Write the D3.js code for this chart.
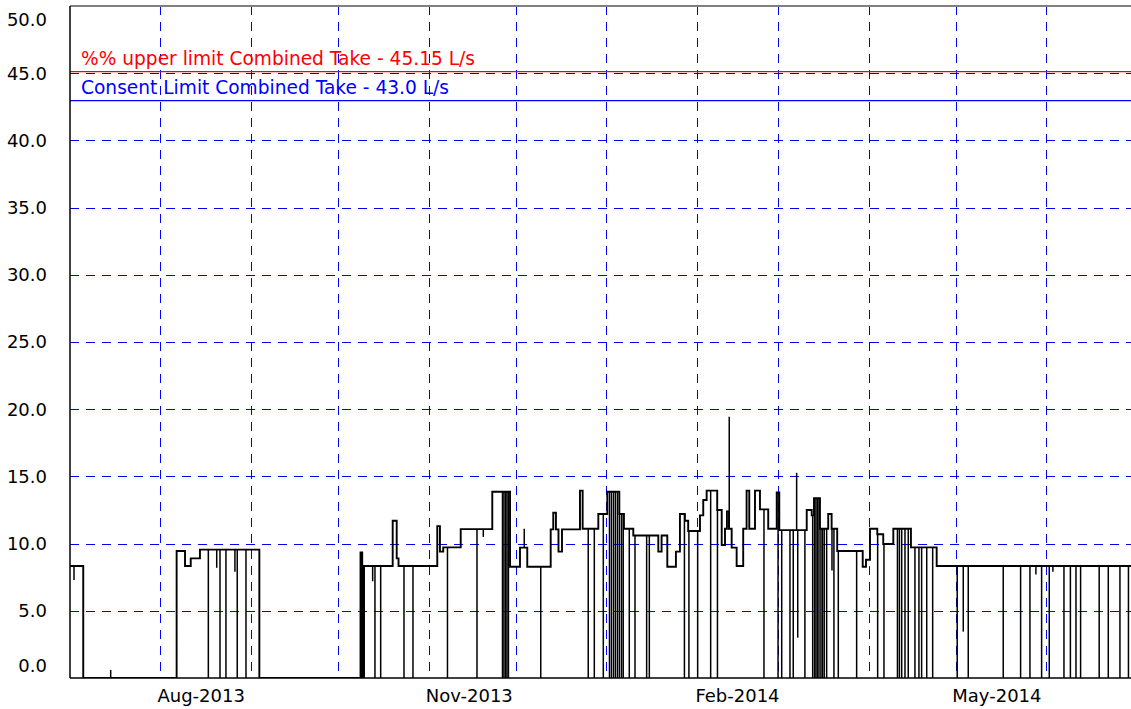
<!DOCTYPE html>
<html>
<head>
<meta charset="utf-8">
<script src="https://cdn.jsdelivr.net/npm/d3@7"></script>
<style>
body { margin: 0; background: #fff; }
svg { display: block; font-family: "DejaVu Sans", sans-serif; }
</style>
</head>
<body>
<svg width="1131" height="709"></svg>
<script>
var parseTime = d3.timeParse("%Y-%m-%dT%H");

// flow record (L/s) as held levels: each value holds until the next date
var levelDates = [
	"2013-07-01T00", "2013-07-05T13", "2013-08-06T14", "2013-08-09T11", "2013-08-11T10", "2013-08-14T14",
	"2013-09-03T23", "2013-10-08T16", "2013-10-09T06", "2013-10-09T21", "2013-10-19T17", "2013-10-21T02",
	"2013-10-21T17", "2013-11-04T00", "2013-11-04T22", "2013-11-06T01", "2013-11-12T01", "2013-11-22T21",
	"2013-11-28T23", "2013-12-02T09", "2013-12-04T21", "2013-12-12T22", "2013-12-13T19", "2013-12-14T17",
	"2013-12-15T14", "2013-12-16T19", "2013-12-22T23", "2013-12-23T21", "2013-12-29T06", "2014-01-01T08",
	"2014-01-05T11", "2014-01-07T01", "2014-01-10T06", "2014-01-18T20", "2014-01-19T23", "2014-01-21T22",
	"2014-01-24T21", "2014-01-26T06", "2014-01-27T23", "2014-01-29T02", "2014-02-02T03", "2014-02-03T06",
	"2014-02-04T10", "2014-02-08T01", "2014-02-09T14", "2014-02-10T17", "2014-02-11T09", "2014-02-12T02",
	"2014-02-13T00", "2014-02-14T17", "2014-02-16T23", "2014-02-18T03", "2014-02-19T01", "2014-02-21T00",
	"2014-02-22T17", "2014-02-25T13", "2014-02-28T11", "2014-03-01T08", "2014-03-10T18", "2014-03-12T11",
	"2014-03-13T06", "2014-03-15T07", "2014-03-18T03", "2014-03-19T07", "2014-03-21T05", "2014-03-29T23",
	"2014-03-31T02", "2014-04-01T11", "2014-04-03T23", "2014-04-06T00", "2014-04-09T11", "2014-04-15T12",
	"2014-04-24T08", "2014-06-30T23"
];
var levelValues = [
	8.33, 0, 9.45, 8.33, 8.9, 9.55,
	0, 9.35, 0, 8.33, 11.7, 8.9,
	8.33, 11.3, 9.4, 9.72, 11.08, 13.86,
	8.28, 9.7, 8.28, 11.06, 12.3, 11.06,
	9.4, 11.06, 13.94, 11.1, 12.2, 13.86,
	12.2, 11.1, 10.6, 9.4, 10.6, 8.28,
	9.4, 12.2, 11.7, 10.94, 12.1, 13.24,
	13.94, 12.5, 9.9, 11.1, 12.4, 11.1,
	9.7, 8.33, 11.1, 13.94, 11.1, 13.94,
	12.55, 11.1, 13.8, 11.0, 12.5, 12.1,
	13.37, 11.1, 12.2, 11.1, 9.45, 8.28,
	8.8, 11.1, 10.7, 9.97, 11.1, 9.72,
	8.33, 8.33
];

// brief drop-outs to zero
var dropDates = [
	"2013-08-17T11", "2013-08-21T11", "2013-08-23T12", "2013-08-27T09", "2013-08-30T09",
	"2013-10-13T15", "2013-10-15T14", "2013-10-23T14", "2013-10-26T16", "2013-11-07T12", "2013-11-17T15",
	"2013-11-26T09", "2013-11-26T21", "2013-11-27T10", "2013-11-27T22", "2013-11-28T10", "2013-12-09T12",
	"2013-12-25T19", "2013-12-27T21", "2013-12-30T23", "2014-01-02T02", "2014-01-02T18", "2014-01-03T11",
	"2014-01-04T03", "2014-01-04T20", "2014-01-05T12", "2014-01-06T05", "2014-01-06T19", "2014-01-08T21",
	"2014-01-10T20", "2014-01-14T20", "2014-01-15T18", "2014-01-27T19", "2014-01-29T08", "2014-02-01T08",
	"2014-02-05T19", "2014-02-08T03", "2014-02-24T02", "2014-02-28T22", "2014-03-02T04", "2014-03-05T00",
	"2014-03-06T03", "2014-03-10T03", "2014-03-12T19", "2014-03-13T10", "2014-03-13T22", "2014-03-14T10",
	"2014-03-14T23", "2014-03-15T15", "2014-03-16T04", "2014-03-16T18", "2014-03-17T14", "2014-03-20T02",
	"2014-03-21T14", "2014-03-27T21", "2014-04-04T02", "2014-04-06T06", "2014-04-10T21", "2014-04-11T13",
	"2014-04-12T08", "2014-04-13T11", "2014-04-14T14", "2014-04-16T21", "2014-04-18T06", "2014-04-19T04",
	"2014-04-20T22", "2014-04-22T23", "2014-05-01T09", "2014-05-05T04", "2014-05-17T04", "2014-05-23T03",
	"2014-05-26T08", "2014-05-30T08", "2014-06-01T23", "2014-06-07T00", "2014-06-09T05", "2014-06-11T03",
	"2014-06-12T17", "2014-06-19T02", "2014-06-22T05", "2014-06-26T05", "2014-06-29T03"
];

// brief partial dips and spikes
var spikeDates = [
	"2013-07-02T09", "2013-07-14T23", "2013-08-20T08", "2013-08-26T14", "2013-10-12T20", "2013-11-19T19",
	"2013-12-03T20", "2014-02-12T04", "2014-03-07T07", "2014-03-07T16", "2014-03-19T10", "2014-05-03T11",
	"2014-05-28T09", "2014-06-03T05"
];
var spikeValues = [7.3, 0.6, 8.2, 7.9, 7.2, 10.5, 11.1, 19.44, 15.27, 3.0, 8.0, 3.45, 7.7, 7.9];

var limitValues = [45.15, 43.0];
var limitLabels = ["%% upper limit Combined Take - 45.15 L/s", "Consent Limit Combined Take - 43.0 L/s"];
var limitColors = ["#ff0000", "#0000ff"];

var yTicks = [0, 5, 10, 15, 20, 25, 30, 35, 40, 45, 50];
var gridMonths = ["2013-08", "2013-09", "2013-10", "2013-11", "2013-12", "2014-01", "2014-02", "2014-03", "2014-04", "2014-05", "2014-06"];
var labelMonths = ["2013-08", "2013-11", "2014-02", "2014-05"];

var svg = d3.select("svg"),
	plotLeft = 70, plotTop = 6, plotRight = 1131, plotBottom = 678;

var x = d3.scaleTime()
	.domain([parseTime("2013-07-01T00"), parseTime("2014-06-30T00")])
	.range([plotLeft, plotRight]);
var y = d3.scaleLinear().domain([0, 50]).range([plotBottom, plotTop]);

var levels = levelDates.map(function(d, i) { return { t: parseTime(d), v: levelValues[i] }; });
var bisect = d3.bisector(function(d) { return d.t; }).right;
function levelAt(t) { return levels[Math.max(0, bisect(levels, t) - 1)].v; } //value being held at time t

var blips = dropDates.map(function(d) { return { t: parseTime(d), v: 0 }; })
	.concat(spikeDates.map(function(d, i) { return { t: parseTime(d), v: spikeValues[i] }; }));

svg.append("clipPath").attr("id", "plot")
	.append("rect").attr("x", plotLeft).attr("y", plotTop)
	.attr("width", plotRight - plotLeft).attr("height", plotBottom - plotTop);

// grid
var parseMonth = d3.timeParse("%Y-%m");
svg.append("g").selectAll("line")
	.data(yTicks.filter(function(d) { return d > 0 && d < 50; }))
	.enter().append("line")
	.attr("x1", plotLeft).attr("x2", plotRight)
	.attr("y1", function(d) { return Math.round(y(d)) + 0.5; })
	.attr("y2", function(d) { return Math.round(y(d)) + 0.5; })
	.attr("stroke", "#0000ff").attr("stroke-dasharray", "9,7");

svg.append("g").selectAll("line")
	.data(gridMonths.map(parseMonth))
	.enter().append("line")
	.attr("x1", function(d) { return Math.round(x(d)) + 0.5; })
	.attr("x2", function(d) { return Math.round(x(d)) + 0.5; })
	.attr("y1", plotTop).attr("y2", plotBottom)
	.attr("stroke", "#0000ff").attr("stroke-dasharray", "9,7");

// limit lines
svg.append("g").selectAll("line")
	.data(limitValues)
	.enter().append("line")
	.attr("x1", plotLeft).attr("x2", plotRight)
	.attr("y1", function(d) { return y(d) + 0.5; })
	.attr("y2", function(d) { return y(d) + 0.5; })
	.attr("stroke", function(d, i) { return limitColors[i]; })
	.attr("stroke-width", 1.3);

svg.append("g").selectAll("text")
	.data(limitLabels)
	.enter().append("text")
	.attr("x", plotLeft + 11)
	.attr("y", function(d, i) { return y(limitValues[i]) - 6; })
	.attr("fill", function(d, i) { return limitColors[i]; })
	.style("font-size", "18.6px")
	.text(function(d) { return d; });

// flow series
var plot = svg.append("g").attr("clip-path", "url(#plot)");

plot.append("path")
	.datum(levels)
	.attr("fill", "none")
	.attr("stroke", "#000")
	.attr("stroke-width", 1.9)
	.attr("d", d3.line()
		.x(function(d) { return x(d.t); })
		.y(function(d) { return y(d.v); })
		.curve(d3.curveStepAfter));

plot.append("g").selectAll("line")
	.data(blips)
	.enter().append("line")
	.attr("x1", function(d) { return x(d.t); })
	.attr("x2", function(d) { return x(d.t); })
	.attr("y1", function(d) { return y(levelAt(d.t)); })
	.attr("y2", function(d) { return y(d.v); })
	.attr("stroke", "#000")
	.attr("stroke-width", 1.5);

// frame
svg.append("line").attr("x1", plotLeft).attr("x2", plotRight).attr("y1", plotTop).attr("y2", plotTop)
	.attr("stroke", "#808080").attr("stroke-width", 2);
svg.append("line").attr("x1", plotLeft).attr("x2", plotLeft).attr("y1", plotTop).attr("y2", plotBottom)
	.attr("stroke", "#000").attr("stroke-width", 1.5);
svg.append("line").attr("x1", plotLeft).attr("x2", plotRight).attr("y1", plotBottom).attr("y2", plotBottom)
	.attr("stroke", "#000").attr("stroke-width", 1.5);

// y labels, end labels pulled inside the frame
svg.append("g").selectAll("text")
	.data(yTicks)
	.enter().append("text")
	.attr("x", 47)
	.attr("y", function(d) { return Math.min(666, Math.max(20, y(d))); })
	.attr("dy", "0.36em")
	.attr("text-anchor", "end")
	.style("font-size", "18px")
	.text(d3.format(".1f"));

// x labels, centred mid month
svg.append("g").selectAll("text")
	.data(labelMonths.map(parseMonth))
	.enter().append("text")
	.attr("x", function(d) { return x(d3.timeDay.offset(d, 14)); })
	.attr("y", 702)
	.attr("text-anchor", "middle")
	.style("font-size", "18px")
	.text(d3.timeFormat("%b-%Y"));
</script>
</body>
</html>
